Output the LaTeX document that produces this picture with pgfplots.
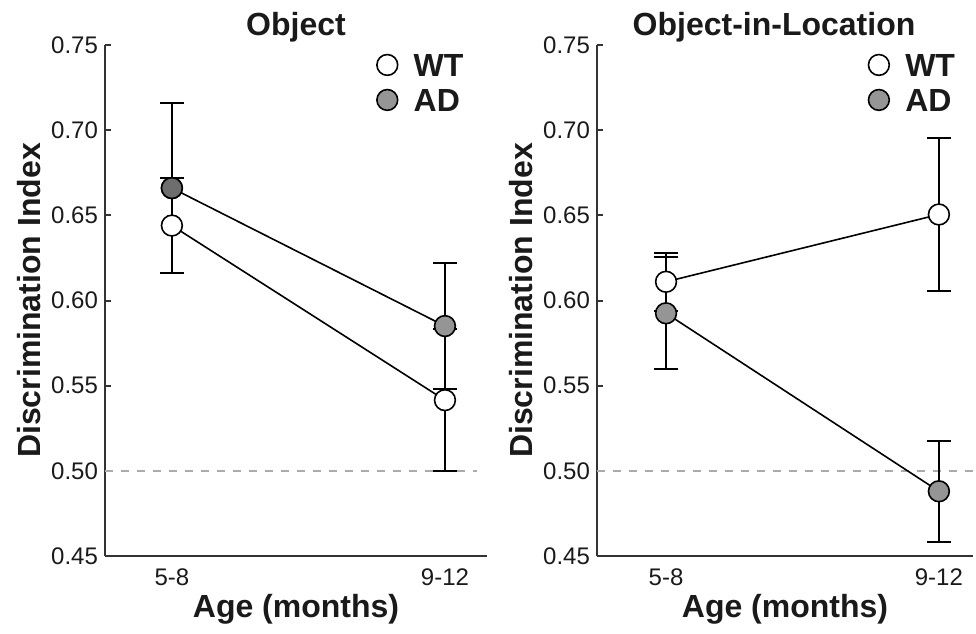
\documentclass[border=0pt]{standalone}
\usepackage{fontspec}
\setmainfont{Liberation Sans}
\usepackage{pgfplots}
\usepackage{pgfplotstable}
\pgfplotsset{compat=1.18}

\definecolor{axgray}{HTML}{333333}
\definecolor{adgray}{HTML}{959595}
\definecolor{addark}{HTML}{6E6E6E}
\definecolor{dashgray}{HTML}{ABABAB}
\definecolor{txt}{HTML}{1A1A1A}

% x y err
\pgfplotstableread{
x y e
0 0.644 0.028
1 0.5415 0.0415
}\objWT
\pgfplotstableread{
x y e
0 0.666 0.050
1 0.585 0.037
}\objAD
\pgfplotstableread{
x y e
0 0.611 0.017
1 0.6505 0.045
}\locWT
\pgfplotstableread{
x y e
0 0.5925 0.033
1 0.488 0.0297
}\locAD

\pgfplotsset{
  panel/.style={
    scale only axis, height=255.5pt,
    ymin=0.45, ymax=0.75,
    axis x line*=bottom, axis y line*=left,
    axis line style={axgray, line width=1pt},
    ytick={0.45,0.5,0.55,0.6,0.65,0.7,0.75},
    /pgf/number format/assume math mode=true,
    yticklabel style={xshift=0pt, /pgf/number format/.cd, fixed, fixed zerofill, precision=2},
    xtick={0,1}, xticklabels={5-8,9-12},
    x tick style={draw=none},
    y tick style={axgray, line width=1pt},
    tick align=inside, major tick length=3pt,
    tick label style={font=\fontsize{12}{12}\selectfont, color=txt},
    xticklabel style={yshift=-3pt},
    label style={font=\bfseries\fontsize{16}{16}\selectfont, color=txt},
    title style={font=\bfseries\fontsize{16}{16}\selectfont, color=txt, at={(axis description cs:0.5,1)}, anchor=center, yshift=3pt},
    ylabel={Discrimination Index},
    xlabel={Age (months)},
    xlabel style={at={(axis description cs:0.5,-0.104)}, anchor=center},
    clip=false,
    legend style={draw=none, fill=none, font=\bfseries\fontsize{16}{16}\selectfont, text=txt,
      legend cell align=left, row sep=3.5pt,
      nodes={inner sep=1pt, text height=12pt, text depth=0pt},
      /tikz/every odd column/.append style={column sep=7pt}},
    legend cell align=left,
  },
  ser/.style={black, line width=0.8pt, mark=*, mark size=5.2pt,
    mark options={draw=black, line width=0.8pt, fill=#1},
    /pgfplots/error bars/y dir=both, /pgfplots/error bars/y explicit,
    /pgfplots/error bars/error bar style={line width=1pt, black},
    /pgfplots/error bars/error mark options={rotate=90, mark size=6pt, line width=1pt, black}},
  leg/.style={only marks, mark=*, mark size=5.2pt, mark options={draw=black, line width=0.8pt, fill=#1}},
}

\begin{document}
\begin{tikzpicture}
\useasboundingbox (-52.5pt,-38.5pt) rectangle (435.5pt,278pt);
\begin{axis}[panel, width=191pt, xmin=-0.245, xmax=1.154,
  title={Object},
  ylabel style={at={(axis description cs:-0.199,0.5)}, anchor=center},
  legend style={at={(axis description cs:0.695,0.997)}, anchor=north west},
  at={(0pt,0pt)}, anchor=south west]
  \addlegendimage{leg=white}\addlegendentry{WT}
  \addlegendimage{leg=adgray}\addlegendentry{AD}
  \addplot[dashgray, line width=0.8pt, dash pattern=on 4pt off 4pt, forget plot] coordinates {(-0.245,0.5) (1.117,0.5)};
  \addplot[ser=adgray, forget plot] table[x=x, y=y, y error=e] {\objAD};
  \addplot[ser=white, forget plot] table[x=x, y=y, y error=e] {\objWT};
  \addplot[only marks, mark=*, mark size=5.2pt, mark options={draw=black, line width=0.8pt, fill=addark}, forget plot] coordinates {(0,0.666)};
\end{axis}
\begin{axis}[panel, width=188pt, xmin=-0.253, xmax=1.125,
  title={Object-in-Location},
  title style={xshift=-5.5pt},
  ylabel style={at={(axis description cs:-0.202,0.5)}, anchor=center},
  legend style={at={(axis description cs:0.705,0.997)}, anchor=north west},
  at={(246pt,0pt)}, anchor=south west]
  \addlegendimage{leg=white}\addlegendentry{WT}
  \addlegendimage{leg=adgray}\addlegendentry{AD}
  \addplot[dashgray, line width=0.8pt, dash pattern=on 4pt off 4pt, forget plot] coordinates {(-0.253,0.5) (1.135,0.5)};
  \addplot[ser=adgray, forget plot] table[x=x, y=y, y error=e] {\locAD};
  \addplot[ser=white, forget plot] table[x=x, y=y, y error=e] {\locWT};
\end{axis}
\end{tikzpicture}
\end{document}
